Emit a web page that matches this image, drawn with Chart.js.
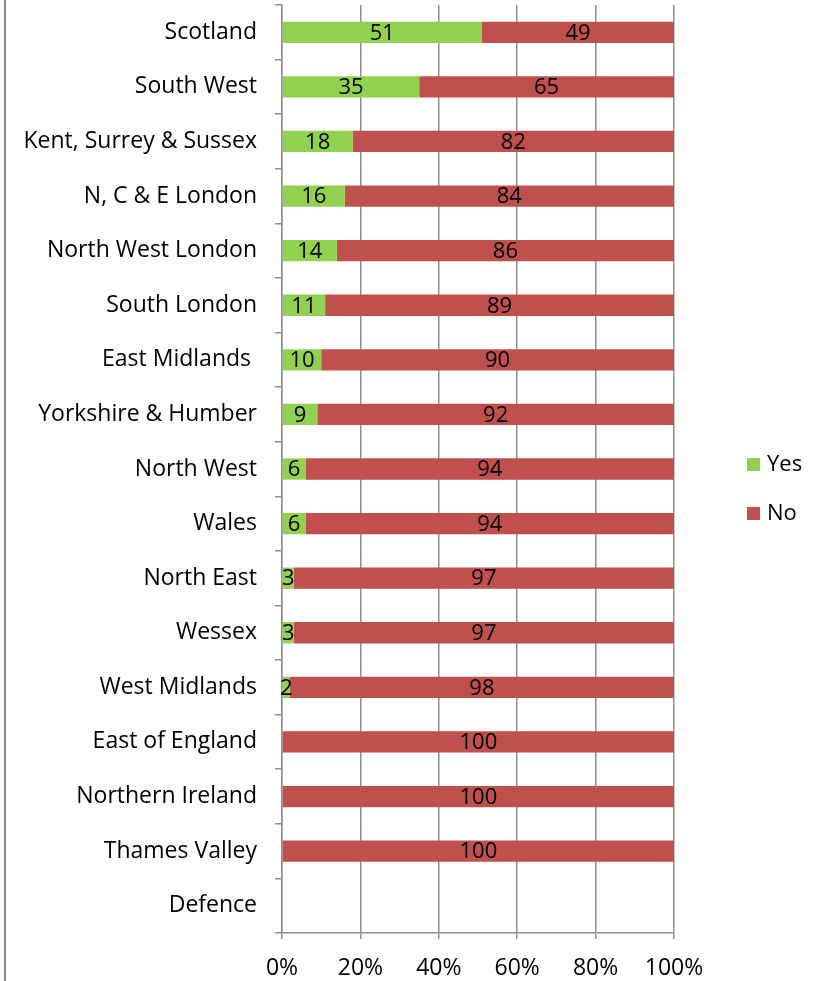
<!DOCTYPE html>
<html>
<head>
<meta charset="utf-8">
<script src="https://cdn.jsdelivr.net/npm/chart.js@4"></script>
<style>
  html, body { margin: 0; padding: 0; background: #fff; }
  #wrap { width: 814px; height: 981px; position: relative; }
</style>
</head>
<body>
<div id="wrap"><canvas id="chartRegiones"></canvas></div>
<script>
const regions = ['Scotland', 'South West', 'Kent, Surrey & Sussex', 'N, C & E London', 'North West London',
  'South London', 'East Midlands ', 'Yorkshire & Humber', 'North West', 'Wales', 'North East', 'Wessex',
  'West Midlands', 'East of England', 'Northern Ireland', 'Thames Valley', 'Defence'];
const yesValues = [51, 35, 18, 16, 14, 11, 10, 9, 6, 6, 3, 3, 2, 0, 0, 0, null];
const noValues = [49, 65, 82, 84, 86, 89, 90, 92, 94, 94, 97, 97, 98, 100, 100, 100, null];
const xTicks = [0, 20, 40, 60, 80, 100];

const fontName = '"Open Sans", Lato, sans-serif';
const gridGray = '#8f8f8f';

// etiquetas de valores dentro de cada barra
const valueLabels = {
  id: 'valueLabels',
  afterDatasetsDraw(chart) {
    const ctx = chart.ctx;
    ctx.save();
    ctx.font = '22px ' + fontName;
    ctx.fillStyle = '#000';
    ctx.textAlign = 'center';
    ctx.textBaseline = 'middle';
    chart.data.datasets.forEach((ds, i) => {
      chart.getDatasetMeta(i).data.forEach((bar, j) => {
        const v = ds.data[j];
        if (!v) return;
        const left = Math.min(bar.base, bar.x);
        const right = Math.min(Math.max(bar.base, bar.x), chart.chartArea.right);
        ctx.fillText(String(v), (left + right) / 2, bar.y + 1);
      });
    });
    ctx.restore();
  }
};

// leyenda a la derecha y borde izquierdo
const sideLegend = {
  id: 'sideLegend',
  beforeDraw(chart) {
    const ctx = chart.ctx;
    ctx.save();
    ctx.strokeStyle = '#8a8a8a';
    ctx.lineWidth = 2;
    ctx.beginPath();
    ctx.moveTo(5, 0);
    ctx.lineTo(5, chart.height);
    ctx.stroke();
    ctx.restore();
  },
  afterDraw(chart) {
    const ctx = chart.ctx;
    ctx.save();
    ctx.font = '22px ' + fontName;
    ctx.textBaseline = 'middle';
    ctx.textAlign = 'left';
    chart.data.datasets.forEach((ds, i) => {
      const y = 464 + i * 49;
      ctx.fillStyle = ds.backgroundColor;
      ctx.fillRect(747, y - 6, 13, 13);
      ctx.fillStyle = '#000';
      ctx.fillText(ds.label, 767, y + 1);
    });
    ctx.restore();
  }
};

new Chart(document.getElementById('chartRegiones'), {
  type: 'bar',
  data: {
    labels: regions,
    datasets: [
      { label: 'Yes', data: yesValues, backgroundColor: '#92D050', barPercentage: 0.39, categoryPercentage: 1 },
      { label: 'No', data: noValues, backgroundColor: '#C0504D', barPercentage: 0.39, categoryPercentage: 1 }
    ]
  },
  options: {
    indexAxis: 'y',
    responsive: true,
    maintainAspectRatio: false,
    animation: false,
    layout: { padding: { top: 5, right: 140, left: 5, bottom: 0 } },
    plugins: {
      legend: { display: false },
      tooltip: { enabled: false }
    },
    scales: {
      x: {
        stacked: true,
        min: 0,
        max: 100,
        afterBuildTicks(scale) { scale.ticks = xTicks.map(v => ({ value: v })); },
        afterFit(scale) { scale.height = 48; scale.paddingLeft = 0; scale.paddingRight = 0; },
        ticks: {
          color: '#000',
          font: { family: fontName, size: 23 },
          padding: 16,
          callback: v => v + '%'
        },
        grid: { color: gridGray, lineWidth: 1.5, tickLength: 6 },
        border: { color: gridGray, width: 1.5 }
      },
      y: {
        stacked: true,
        afterFit(scale) { scale.width = 277; scale.paddingTop = 0; scale.paddingBottom = 0; },
        ticks: {
          color: '#000',
          font: { family: fontName, size: 23 },
          padding: 18
        },
        grid: { drawOnChartArea: false, offset: true, color: gridGray, lineWidth: 1.5, tickLength: 7 },
        border: { color: gridGray, width: 1.5 }
      }
    }
  },
  plugins: [valueLabels, sideLegend]
});
</script>
</body>
</html>
